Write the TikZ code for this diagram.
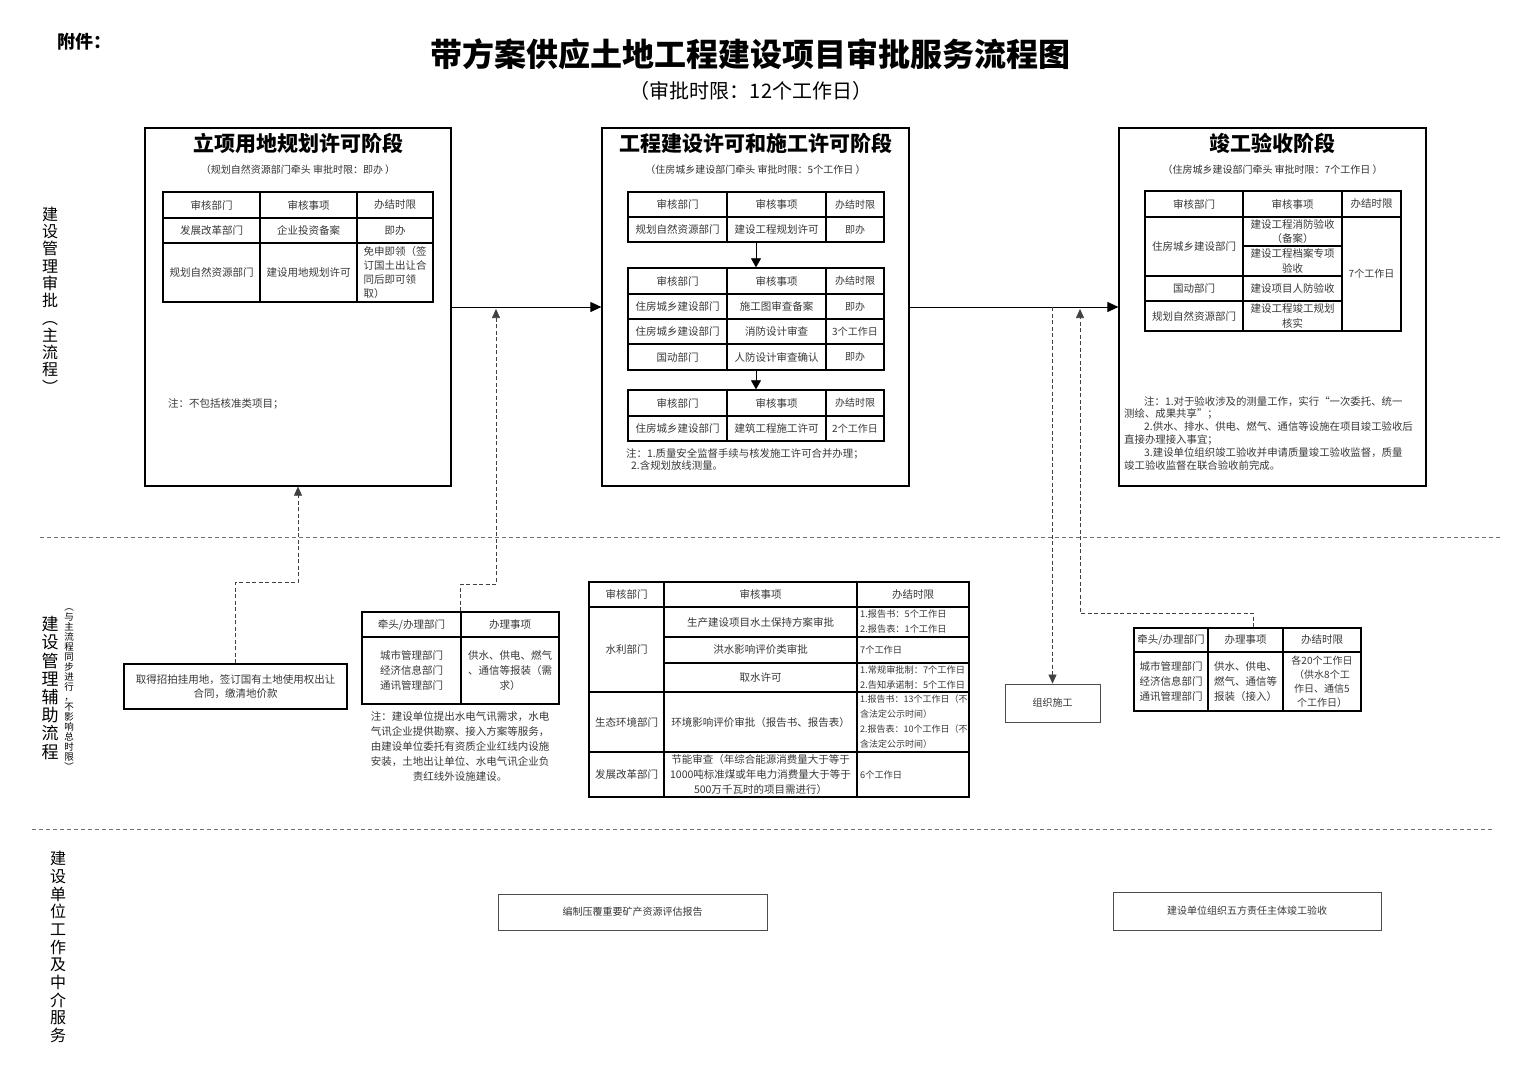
\documentclass[tikz,border=0pt]{standalone}
\usepackage{fontspec}
\setmainfont{Noto Sans CJK SC}
\usetikzlibrary{arrows.meta,calc}

\newcommand{\fs}[2]{\fontsize{#1}{#2}\selectfont}

\tikzset{
  stagebox/.style={draw, line width=1.2pt, minimum width=306pt, minimum height=358pt, inner sep=0pt},
  tbl/.style={draw, line width=1.4pt, inner sep=0pt},
  grid/.style={line width=1.4pt},
  cell/.style={font=\fs{10.5}{14}, text=black!78, align=center, inner sep=0pt},
  lcell/.style={cell, align=left, anchor=west},
  plainbox/.style={draw=black!70, line width=0.8pt, inner sep=0pt, font=\fs{10}{14}, text=black!78, align=center},
  flow/.style={line width=1pt, -{Triangle[length=11pt,width=10pt]}},
  stepflow/.style={line width=0.8pt, -{Triangle[length=9pt,width=10pt]}},
  dashline/.style={dash pattern=on 4pt off 2.5pt, line width=0.6pt, black!75, -{Triangle[length=9pt,width=8pt]}},
  sepline/.style={dash pattern=on 4pt off 3pt, line width=0.6pt, black!55},
  lane/.style={align=center, inner sep=0pt},
}

\begin{document}
\begin{tikzpicture}[x=1pt, y=-1pt]
\path[fill=white] (0,0) rectangle (1520,1074);
\useasboundingbox (0,0) rectangle (1520,1074);

% Title
\node[font=\fs{18}{20}\bfseries] (annex) at (84,42) {附件：};
\node[font=\fs{32}{36}\bfseries] (title) at (750,54) {带方案供应土地工程建设项目审批服务流程图};
\node[font=\fs{20}{22}] (subtitle) at (751,91) {（审批时限：12个工作日）};

% Lane separators
\draw[sepline] (40,537) -- (1500,537);
\draw[sepline] (32,829) -- (1492,829);

% Lane labels
\node[lane, font=\fs{16}{17.3}] (laneMain) at (50,300) {建\\设\\管\\理\\审\\批\\︵\\主\\流\\程\\︶};
\node[lane, font=\fs{17}{18.2}] (laneAux) at (50,688) {建\\设\\管\\理\\辅\\助\\流\\程};
\node[lane, font=\fs{9.5}{10}] (laneAuxNote) at (69,690) {︵\\与\\主\\流\\程\\同\\步\\进\\行\\，\\不\\影\\响\\总\\时\\限\\︶};
\node[lane, font=\fs{16}{17.7}] (laneUnit) at (58,947) {建\\设\\单\\位\\工\\作\\及\\中\\介\\服\\务};

% Stage boxes
\node[stagebox] (stageA) at (298,307) {};
\node[stagebox, minimum width=307pt] (stageB) at (755.5,307) {};
\node[stagebox, minimum width=307pt] (stageC) at (1272.5,307) {};
\foreach \n/\x/\t/\s in {A/298/立项用地规划许可阶段/（规划自然资源部门牵头 审批时限：即办 ）,
    B/755.5/工程建设许可和施工许可阶段/（住房城乡建设部门牵头 审批时限：5个工作日 ）,
    C/1272.5/竣工验收阶段/（住房城乡建设部门牵头 审批时限：7个工作日 ）} {
  \node[font=\fs{21}{24}\bfseries] (stitle\n) at (\x,143) {\t};
  \node[font=\fs{10}{12}, text=black!80] (ssub\n) at (\x,170) {\s};
}

% Main flow
\draw[flow] (stageA.east) -- (stageB.west);
\draw[flow] (stageB.east) -- (stageC.west);

% Stage A table
\node[tbl, minimum width=270pt, minimum height=110pt] (tabA) at (298,247) {};
\foreach \x in {260,357} \draw[grid] (\x,192) -- (\x,302);
\foreach \y in {218,243} \draw[grid] (163,\y) -- (433,\y);
\foreach \y/\a/\b/\c [count=\i] in {205/审核部门/审核事项/办结时限, 230.5/发展改革部门/企业投资备案/即办} {
  \node[cell] (aA\i) at (211.5,\y) {\a};
  \node[cell] (aB\i) at (308.5,\y) {\b};
  \node[cell] (aC\i) at (395,\y) {\c};
}
\node[cell] (aA3) at (211.5,272.5) {规划自然资源部门};
\node[cell] (aB3) at (308.5,272.5) {建设用地规划许可};
\node[cell, align=left, font=\fs{10.5}{14}] (aC3) at (395,272.5) {免申即领（签\\订国土出让合\\同后即可领\\取）};
\node[lcell] (noteA) at (168,404) {注：不包括核准类项目；};

% Stage B tables
\node[tbl, minimum width=256pt, minimum height=50pt] (tabB1) at (756,217) {};
\node[tbl, minimum width=256pt, minimum height=102pt] (tabB2) at (756,319) {};
\node[tbl, minimum width=256pt, minimum height=51pt] (tabB3) at (756,415.5) {};
\foreach \x in {727,826} {
  \draw[grid] (\x,192) -- (\x,242);
  \draw[grid] (\x,268) -- (\x,370);
  \draw[grid] (\x,390) -- (\x,441);
}
\foreach \y in {217,294,319,344,416} \draw[grid] (628,\y) -- (884,\y);
\foreach \y/\a/\b/\c [count=\i] in {204.5/审核部门/审核事项/办结时限,
    229.5/规划自然资源部门/建设工程规划许可/即办,
    281/审核部门/审核事项/办结时限,
    306.5/住房城乡建设部门/施工图审查备案/即办,
    331.5/住房城乡建设部门/消防设计审查/3个工作日,
    357/国动部门/人防设计审查确认/即办,
    403/审核部门/审核事项/办结时限,
    428.5/住房城乡建设部门/建筑工程施工许可/2个工作日} {
  \node[cell] (bA\i) at (677.5,\y) {\a};
  \node[cell] (bB\i) at (776.5,\y) {\b};
  \node[cell, font=\fs{10}{14}] (bC\i) at (855,\y) {\c};
}
\draw[stepflow] (tabB1.south) -- (tabB2.north);
\draw[stepflow] (tabB2.south) -- (tabB3.north);
\node[cell, align=left, anchor=north west, font=\fs{10.4}{12.5}] (noteB) at (626,448) {注：1.质量安全监督手续与核发施工许可合并办理；\\\hspace*{5pt}2.含规划放线测量。};

% Stage C table
\node[tbl, minimum width=256pt, minimum height=140pt] (tabC) at (1273,261) {};
\foreach \x in {1243,1342} \draw[grid] (\x,191) -- (\x,331);
\draw[grid] (1145,217) -- (1401,217);
\draw[grid] (1243,246) -- (1342,246);
\foreach \y in {276,301} \draw[grid] (1145,\y) -- (1342,\y);
\node[cell] (cA1) at (1194,204) {审核部门};
\node[cell] (cB1) at (1292.5,204) {审核事项};
\node[cell] (cC1) at (1371.5,204) {办结时限};
\node[cell] (cA2) at (1194,246.5) {住房城乡建设部门};
\node[cell, font=\fs{10.5}{14.5}] (cB2) at (1292.5,231.5) {建设工程消防验收\\（备案）};
\node[cell, font=\fs{10.5}{14.5}] (cB3) at (1292.5,261) {建设工程档案专项\\验收};
\node[cell] (cA4) at (1194,288.5) {国动部门};
\node[cell] (cB4) at (1292.5,288.5) {建设项目人防验收};
\node[cell] (cA5) at (1194,316) {规划自然资源部门};
\node[cell, font=\fs{10.5}{14.5}] (cB5) at (1292.5,316) {建设工程竣工规划\\核实};
\node[cell, font=\fs{10}{14}] (cC2) at (1371.5,274) {7个工作日};
\node[cell, align=left, anchor=north west, font=\fs{10.4}{12.8}] (noteC) at (1124,396) {%
  \hspace*{20pt}注：1.对于验收涉及的测量工作，实行“一次委托、统一\\
  测绘、成果共享”；\\
  \hspace*{20pt}2.供水、排水、供电、燃气、通信等设施在项目竣工验收后\\
  直接办理接入事宜；\\
  \hspace*{20pt}3.建设单位组织竣工验收并申请质量竣工验收监督，质量\\
  竣工验收监督在联合验收前完成。};

% Auxiliary: land
\node[plainbox, draw=black, line width=1.2pt, minimum width=223pt, minimum height=45pt, font=\fs{10.5}{14}] (landbox) at (235.5,686.5)
  {取得招拍挂用地，签订国有土地使用权出让\\合同，缴清地价款};
\draw[dashline] (landbox.north) -- ++(0,-81) -| (stageA.south);

% Auxiliary: utilities (stage A/B)
\node[tbl, minimum width=197pt, minimum height=92pt] (auxA) at (460.5,658) {};
\draw[grid] (461,612) -- (461,704);
\draw[grid] (362,637) -- (559,637);
\node[cell] (uA1) at (411.5,624.5) {牵头/办理部门};
\node[cell] (uB1) at (510,624.5) {办理事项};
\node[cell, font=\fs{10.5}{15}] (uA2) at (411.5,670.5) {城市管理部门\\经济信息部门\\通讯管理部门};
\node[cell, font=\fs{10.5}{15}] (uB2) at (510,670.5) {供水、供电、燃气\\、通信等报装（需\\求）};
\node[cell, anchor=north, font=\fs{10.5}{15}] (noteAux) at (460,711) {注：建设单位提出水电气讯需求，水电\\气讯企业提供勘察、接入方案等服务，\\由建设单位委托有资质企业红线内设施\\安装，土地出让单位、水电气讯企业负\\责红线外设施建设。};
\coordinate (joinA) at (496,309);
\draw[dashline] (auxA.north) -- ++(0,-27) -| (joinA);

% Parallel approvals table
\node[tbl, minimum width=380pt, minimum height=215pt] (tabW) at (779,689.5) {};
\foreach \x in {664,857} \draw[grid] (\x,582) -- (\x,797);
\foreach \y in {607,692,752} \draw[grid] (589,\y) -- (969,\y);
\foreach \y in {637,663} \draw[grid] (664,\y) -- (969,\y);
\node[cell] (wA1) at (626.5,594.5) {审核部门};
\node[cell] (wB1) at (760.5,594.5) {审核事项};
\node[cell] (wC1) at (913,594.5) {办结时限};
\node[cell] (wA2) at (626.5,649.5) {水利部门};
\node[cell] (wB2) at (760.5,622) {生产建设项目水土保持方案审批};
\node[lcell, font=\fs{9.2}{15}] (wC2) at (860,622) {1.报告书：5个工作日\\2.报告表：1个工作日};
\node[cell] (wB3) at (760.5,650) {洪水影响评价类审批};
\node[lcell, font=\fs{9.2}{15}] (wC3) at (860,650) {7个工作日};
\node[cell] (wB4) at (760.5,677.5) {取水许可};
\node[lcell, font=\fs{9.2}{15}] (wC4) at (860,677.5) {1.常规审批制：7个工作日\\2.告知承诺制：5个工作日};
\node[cell] (wA5) at (626.5,722) {生态环境部门};
\node[cell] (wB5) at (760.5,722) {环境影响评价审批（报告书、报告表）};
\node[lcell, font=\fs{9}{15}] (wC5) at (860,722) {1.报告书：13个工作日（不\\含法定公示时间）\\2.报告表：10个工作日（不\\含法定公示时间）};
\node[cell] (wA6) at (626.5,774.5) {发展改革部门};
\node[cell, font=\fs{10.5}{15}] (wB6) at (760.5,774.5) {节能审查（年综合能源消费量大于等于\\1000吨标准煤或年电力消费量大于等于\\500万千瓦时的项目需进行）};
\node[lcell, font=\fs{9.2}{15}] (wC6) at (860,774.5) {6个工作日};

% Construction
\node[plainbox, minimum width=95pt, minimum height=38pt] (buildbox) at (1052.5,703) {组织施工};
\draw[dashline] (buildbox.north |- stageB.east) -- (buildbox.north);

% Auxiliary: utilities (stage C)
\node[tbl, minimum width=227pt, minimum height=83pt] (auxB) at (1247.5,669.5) {};
\foreach \x in {1208,1283} \draw[grid] (\x,628) -- (\x,711);
\draw[grid] (1134,652) -- (1361,652);
\node[cell] (vA1) at (1171,640) {牵头/办理部门};
\node[cell] (vB1) at (1245.5,640) {办理事项};
\node[cell] (vC1) at (1322,640) {办结时限};
\node[cell, font=\fs{10.5}{15}] (vA2) at (1171,681.5) {城市管理部门\\经济信息部门\\通讯管理部门};
\node[cell, font=\fs{10.5}{15}] (vB2) at (1245.5,681.5) {供水、供电、\\燃气、通信等\\报装（接入）};
\node[cell, font=\fs{10}{14}] (vC2) at (1322,681.5) {各20个工作日\\（供水8个工\\作日、通信5\\个工作日）};
\coordinate (joinC) at (1080,309);
\draw[dashline] ($(auxB.north)+(5.5,0)$) -- ++(0,-14) -| (joinC);

% Builder / agency work
\node[plainbox, minimum width=269pt, minimum height=36pt] (minebox) at (632.5,912) {编制压覆重要矿产资源评估报告};
\node[plainbox, minimum width=268pt, minimum height=38pt] (checkbox) at (1247,911) {建设单位组织五方责任主体竣工验收};

\end{tikzpicture}
\end{document}
